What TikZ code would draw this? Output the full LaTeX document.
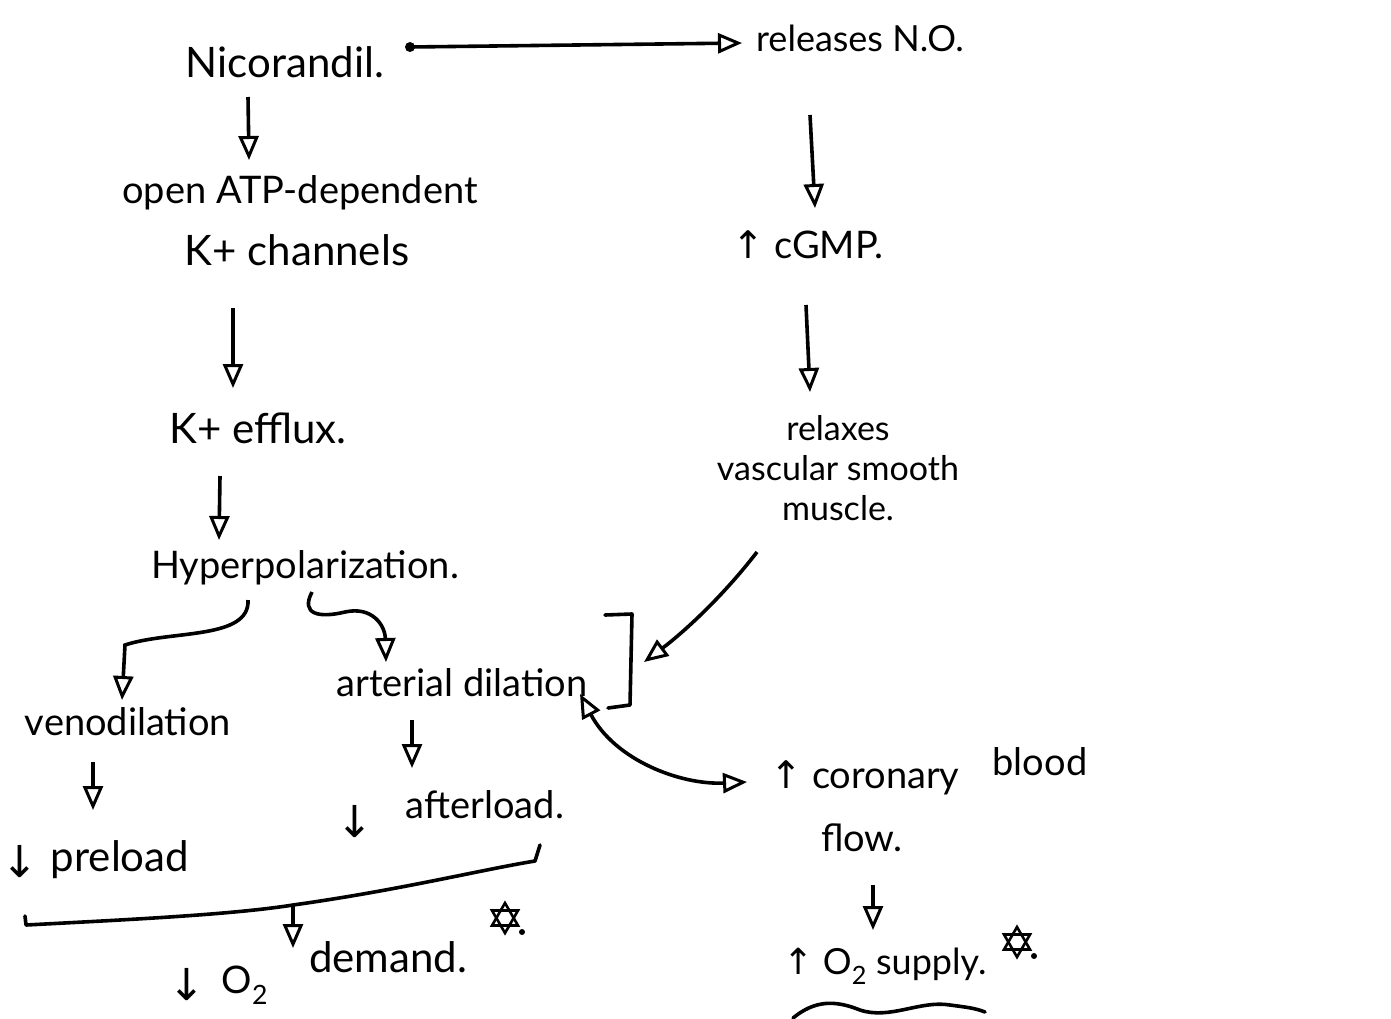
\documentclass[tikz,border=0pt]{standalone}
\usepackage{fontspec}
\setmainfont{Lato}
\newfontfamily\symf{DejaVu Sans}
\usetikzlibrary{arrows.meta}
\begin{document}
\begin{tikzpicture}[x=1pt,y=-1pt,
  txt/.style={font=\fontsize{38}{44}\selectfont, inner sep=0pt, text=black, anchor=center},
  big/.style={font=\fontsize{42}{48}\selectfont},
  sym/.style={font=\symf\fontsize{44}{48}\selectfont, inner sep=0pt},
  arr/.style={line width=3.6pt, -{Triangle[open,length=24pt,width=20pt,line width=3pt]}},
  darr/.style={line width=3.6pt, {Triangle[open,length=24pt,width=20pt,line width=3pt]}-{Triangle[open,length=24pt,width=20pt,line width=3pt]}},
  ln/.style={line width=3.6pt, line cap=round, line join=round}]
\useasboundingbox[fill=white] (0,0) rectangle (1391,1018);

% ---- texts
\node[txt,big] (nic) at (285,62) {Nicorandil.};
\node[txt,font=\fontsize{36}{40}\selectfont] (no)  at (860,38) {releases N.O.};
\node[txt] (atp) at (300,193) {open ATP-dependent};
\node[txt,big] (kch) at (297,250) {K+ channels};
\node[txt,big] (kef) at (258,428) {K+ efflux.};
\node[txt] (hyp) at (305,568) {Hyperpolarization.};
\node[txt] (veno) at (128,722) {venodilation};
\node[txt] (art) at (462,683) {arterial dilation};
\node[sym] (pred) at (20,862) {↓};
\node[txt,big] (pre) at (120,860) {preload};
\node[sym] (aftd) at (355,822) {↓};
\node[txt] (aft) at (485,805) {afterload.};
\node[txt,big] (dem) at (388,957) {demand.};
\node[sym] (o2dd) at (187,985) {↓};
\node[txt] (o2d) at (245,985) {O\textsubscript{2}};
\node[txt] (cgmp) at (808,245) {{\symf↑} cGMP.};
\node[txt,align=center,font=\fontsize{34}{40}\selectfont] (rel) at (838,468) {relaxes\\vascular smooth\\muscle.};
\node[txt] (cor) at (865,778) {{\symf↑} coronary};
\node[txt] (blood) at (1040,762) {blood};
\node[txt] (flow) at (862,838) {flow.};
\node[txt,font=\fontsize{36}{40}\selectfont] (sup) at (885,966) {{\symf↑} O\textsubscript{2} supply.};

% ---- coordinates for connector ends
\coordinate (c1s) at (410,47);  \coordinate (c1e) at (742,43);
\coordinate (c2s) at (248,97);  \coordinate (c2e) at (249,160);
\coordinate (c3s) at (233,308); \coordinate (c3e) at (233,388);
\coordinate (c4s) at (220,476); \coordinate (c4e) at (219,540);
\coordinate (c5s) at (810,115); \coordinate (c5e) at (815,208);
\coordinate (c6s) at (806,305); \coordinate (c6e) at (810,392);
\coordinate (c7s) at (757,552); \coordinate (c7e) at (644,662);
\coordinate (c8s) at (93,762);  \coordinate (c8e) at (93,810);
\coordinate (c9s) at (412,720); \coordinate (c9e) at (412,768);
\coordinate (c10s) at (873,885); \coordinate (c10e) at (873,930);
\coordinate (c11s) at (293,904); \coordinate (c11e) at (293,948);
\coordinate (d1) at (580,694); \coordinate (d2) at (747,782);

% ---- connectors
\fill (c1s) circle (5pt);
\draw[arr] (c1s) -- (c1e);
\draw[arr] (c2s) -- (c2e);
\draw[arr] (c3s) -- (c3e);
\draw[arr] (c4s) -- (c4e);
\draw[arr] (c5s) -- (c5e);
\draw[arr] (c6s) -- (c6e);
\draw[arr] (c7s) .. controls (720,600) and (680,635) .. (c7e);
\draw[arr] (c8s) -- (c8e);
\draw[arr] (c9s) -- (c9e);
\draw[arr] (c10s) -- (c10e);
\draw[arr] (c11s) -- (c11e);

% curved arrows from Hyperpolarization
\draw[arr] (248,600) .. controls (250,640) and (170,630) .. (125,645) -- (122,700);
\draw[arr] (312,592) .. controls (300,615) and (320,618) .. (345,612)
  .. controls (372,606) and (385,625) .. (386,662);

% double-headed curved arrow
\draw[darr] (d1) .. controls (615,760) and (680,785) .. (d2);

% bracket around arterial dilation
\draw[ln] (605,615) -- (632,614) -- (630,705) -- (608,708);

% bottom brace joining preload and afterload
\draw[ln] (25,916) -- (26,925) .. controls (120,920) and (230,915) .. (293,905)
  .. controls (400,890) and (480,870) .. (535,861) -- (540,845);

% wavy underline under O2 supply (partly cut off)
\draw[ln] (793,1018) .. controls (815,1000) and (835,1000) .. (860,1010)
  .. controls (890,1020) and (920,1000) .. (950,1005) .. controls (965,1007) and (975,1008) .. (985,1012);

% stars
\foreach \cx/\cy in {505/918, 1017/942}{
  \draw[line width=2.6pt] (\cx,\cy) ++(90:15) -- ++(-120:26) -- ++(0:26) -- cycle;
  \draw[line width=2.6pt] (\cx,\cy) ++(-90:15) -- ++(120:26) -- ++(0:26) -- cycle;
  \fill (\cx+17,\cy+14) circle (3pt);
}
\end{tikzpicture}
\end{document}
